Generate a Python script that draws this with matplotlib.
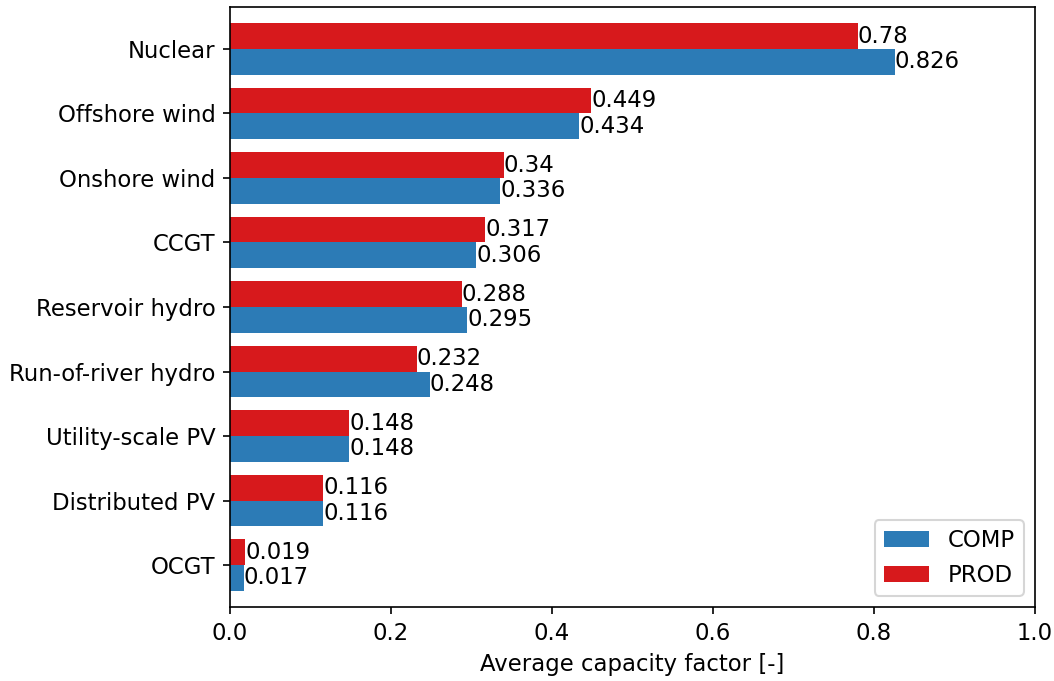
import matplotlib
matplotlib.use("Agg")
import matplotlib.pyplot as plt
import numpy as np

categories = ["Nuclear", "Offshore wind", "Onshore wind", "CCGT", "Reservoir hydro",
              "Run-of-river hydro", "Utility-scale PV", "Distributed PV", "OCGT"]
comp = [0.826, 0.434, 0.336, 0.306, 0.295, 0.248, 0.148, 0.116, 0.017]
prod = [0.78, 0.449, 0.34, 0.317, 0.288, 0.232, 0.148, 0.116, 0.019]
comp_labels = ["0.826", "0.434", "0.336", "0.306", "0.295", "0.248", "0.148", "0.116", "0.017"]
prod_labels = ["0.78", "0.449", "0.34", "0.317", "0.288", "0.232", "0.148", "0.116", "0.019"]

plt.rcParams["font.size"] = 10.9

fig = plt.figure(figsize=(1054/150, 681/150), dpi=150)
ax = fig.add_axes([230/1054, 1-607/681, (1035-230)/1054, (607-7)/681])

y = np.arange(len(categories))[::-1]
h = 0.4
b1 = ax.barh(y - h/2, comp, height=h, color="#2c7bb6", label="COMP")
b2 = ax.barh(y + h/2, prod, height=h, color="#d7191c", label="PROD")
ax.bar_label(b1, labels=comp_labels, padding=0)
ax.bar_label(b2, labels=prod_labels, padding=0)

ax.set_yticks(y)
ax.set_yticklabels(categories)
ax.set_xlim(0, 1.0)
ax.set_ylim(-0.65, len(categories) - 1 + 0.65)
ax.set_xlabel("Average capacity factor [-]")
ax.legend(loc="lower right")

fig.savefig("out.png", dpi=150)
